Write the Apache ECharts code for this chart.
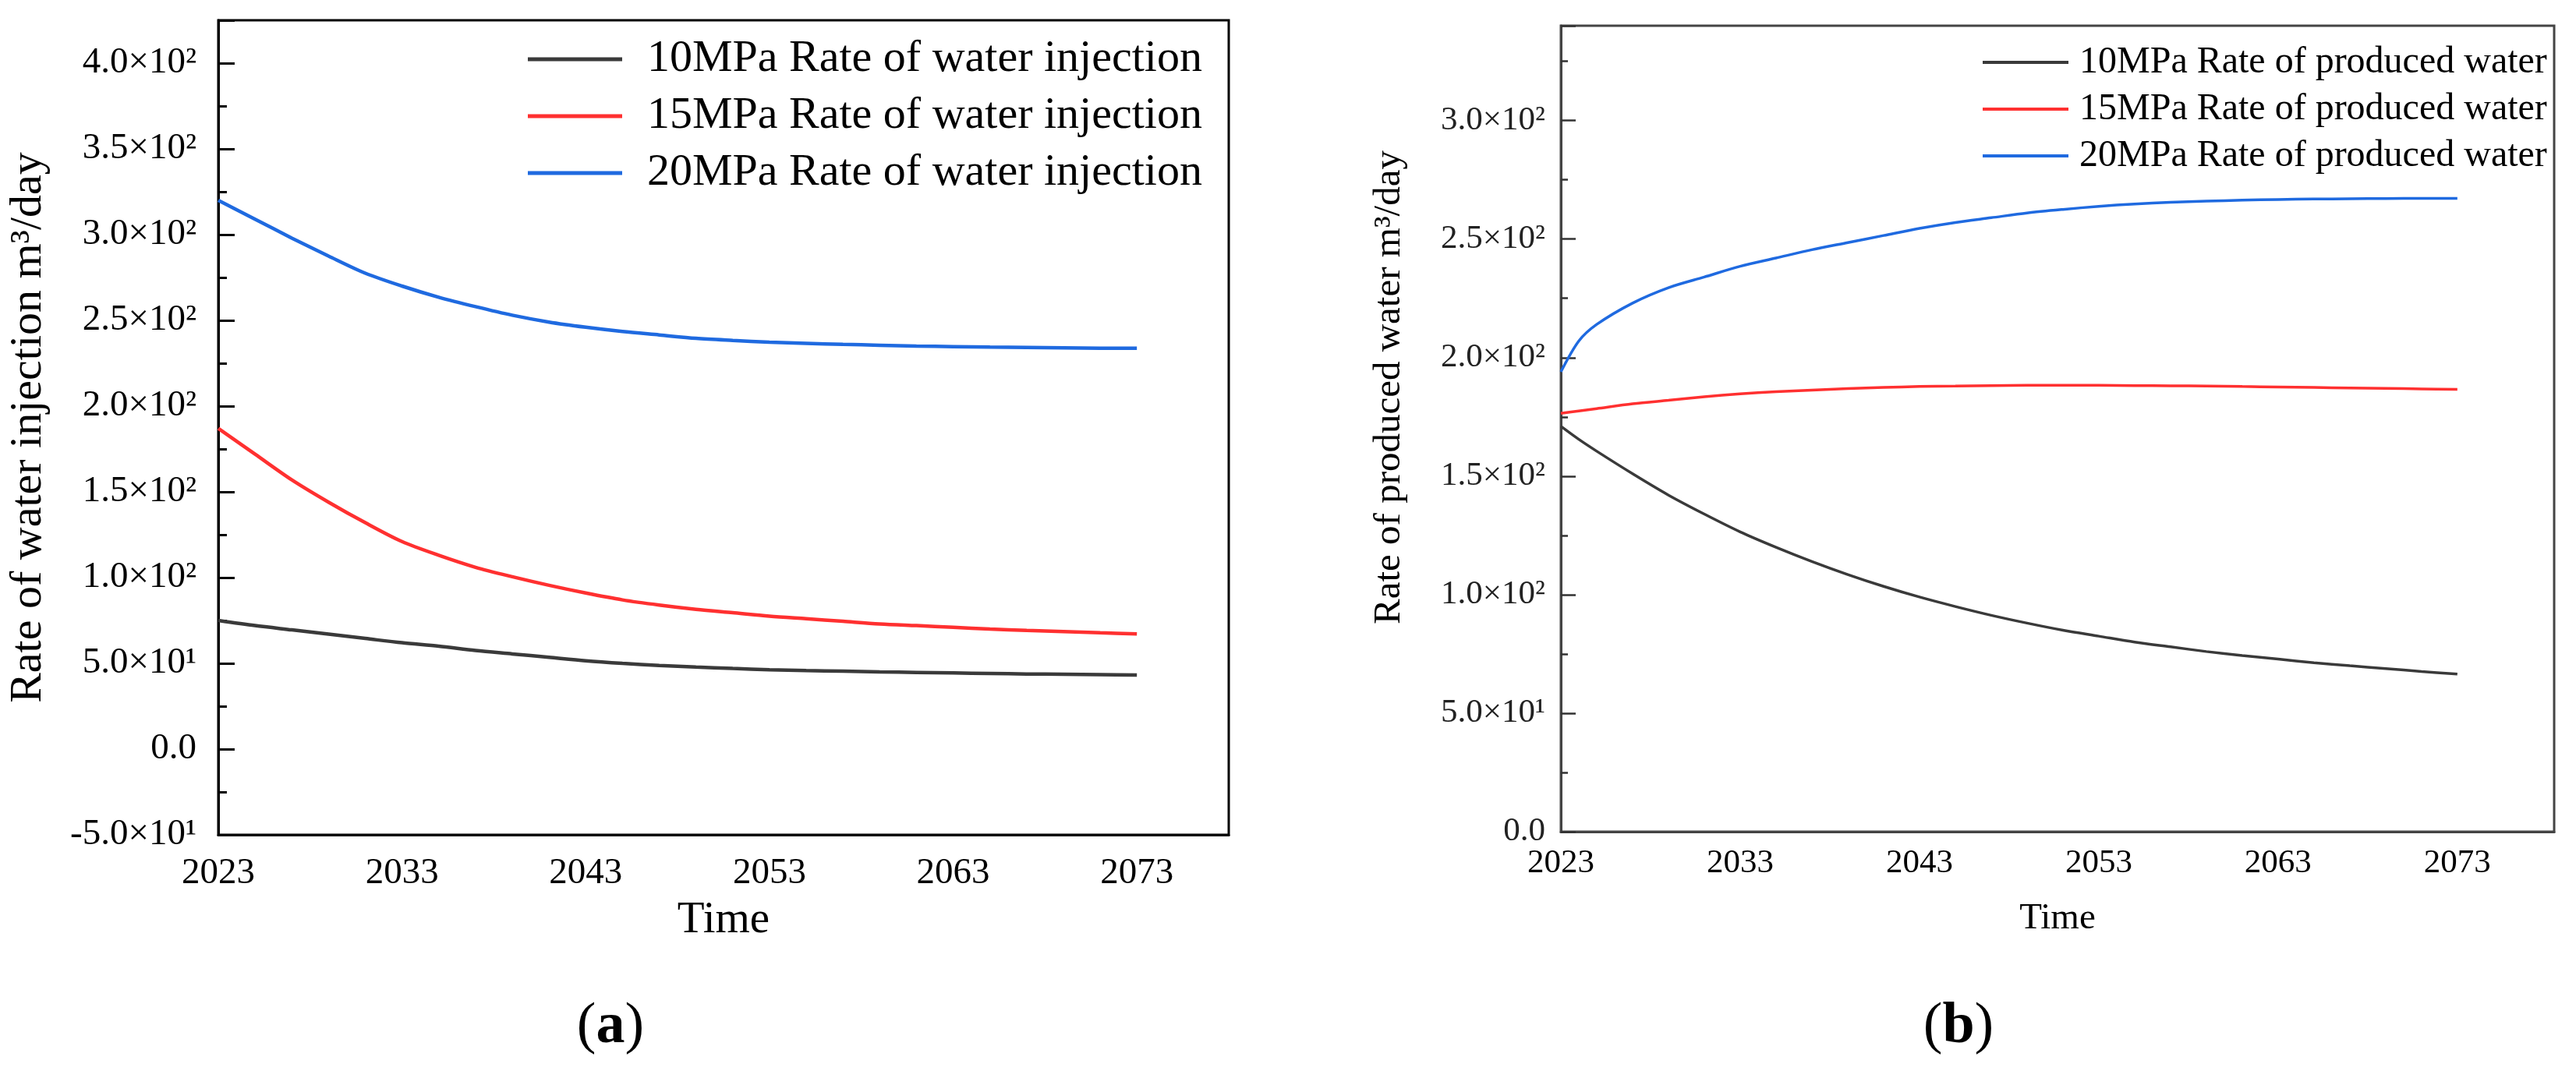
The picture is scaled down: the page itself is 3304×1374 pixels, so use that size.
<!DOCTYPE html>
<html>
<head>
<meta charset="utf-8">
<script src="https://cdn.jsdelivr.net/npm/echarts@6/dist/echarts.min.js"></script>
<style>
html,body{margin:0;padding:0;background:#fff;}
#c{width:3304px;height:1374px;}
</style>
</head>
<body>
<div id="c"></div>
<script>
// ---- data ----
const injYears = [2023,2025,2027,2029,2031,2033,2035,2037,2039,2041,2043,2045,2047,2049,2051,2053,2055,2057,2059,2061,2063,2065,2067,2069,2071,2073];
const inj10 = [75,72,69.5,67,64.5,62,60,57.5,55.5,53.5,51.5,50,48.8,47.8,47,46.3,45.8,45.4,45,44.7,44.4,44.1,43.8,43.6,43.4,43.2];
const inj15 = [187,172,157,144,132,121,113,106,100.5,95.5,91,87,84,81.5,79.5,77.5,76,74.5,73,72,71,70,69.2,68.5,67.8,67.2];
const inj20 = [320,309,298,287.5,277.5,270,263.5,258,253,249,246,243.5,241.5,239.5,238.3,237.3,236.6,236,235.5,235,234.7,234.4,234.2,234,233.8,233.7];

const prodYears = [2023,2024,2025,2027,2029,2031,2033,2035,2037,2039,2041,2043,2045,2047,2049,2051,2053,2055,2057,2059,2061,2063,2065,2067,2069,2071,2073];
const prod10 = [171,165.5,160.5,151,142,134,126.5,120,114,108.5,103.5,99,95,91.3,88,85,82.5,80,78,76,74.3,72.8,71.3,70,68.8,67.6,66.5];
const prod15 = [176.5,177.5,178.5,180.5,182,183.5,184.7,185.6,186.3,186.9,187.4,187.8,188,188.2,188.3,188.3,188.3,188.2,188.1,188,187.8,187.6,187.4,187.2,187,186.8,186.6];
const prod20 = [194,207,214,223,229.5,234,238.5,242,245.5,248.5,251.5,254.5,257,259,261,262.5,263.8,264.8,265.5,266,266.4,266.7,266.9,267,267.1,267.2,267.2];

const injNames = ['10MPa Rate of water injection','15MPa Rate of water injection','20MPa Rate of water injection'];
const prodNames = ['10MPa Rate of produced water','15MPa Rate of produced water','20MPa Rate of produced water'];
const colors = ['#3a3a3a','#ff3030','#1f6ae0'];
const baseYear = 2023;

// ---- helpers ----
function pairs(xs, ys){ return xs.map((x,i)=>[x-baseYear, ys[i]]); }
function sci(v){
  if (Math.abs(v) < 1e-9) return '0.0';
  const e = Math.floor(Math.log10(Math.abs(v)) + 1e-9);
  const m = v/Math.pow(10,e);
  return m.toFixed(1) + '×10' + (e===1 ? '¹' : '²');
}
const FONT = '"Liberation Serif","Times New Roman",serif';

const chart = echarts.init(document.getElementById('c'), null, {renderer:'canvas'});

function xAxisCfg(gi, max, labelSize, margin, nameSize, nameGap, color){
  return {
    type:'value', gridIndex:gi, min:0, max:max, interval:10,
    axisLine:{show:true, onZero:false, lineStyle:{color:color, width:3}},
    axisTick:{show:false}, splitLine:{show:false},
    axisLabel:{show:true, margin:margin, fontFamily:FONT, fontSize:labelSize, color:'#000',
      showMaxLabel:false, formatter:(v)=>String(Math.round(v+baseYear))},
    name:'Time', nameLocation:'middle', nameGap:nameGap,
    nameTextStyle:{fontFamily:FONT, fontSize:nameSize, color:'#000'}
  };
}

function lineSeries(name, xi, xs, ys, color, w){
  return {name:name, type:'line', xAxisIndex:xi, yAxisIndex:xi, data:pairs(xs, ys),
    symbol:'none', showSymbol:false, smooth:0.3,
    lineStyle:{color:color, width:w}, itemStyle:{color:color}};
}

const option = {
  backgroundColor:'#fff',
  animation:false,
  grid:[
    {left:280, top:26, width:1296, height:1045, show:true, borderColor:'#000', borderWidth:3, containLabel:false},
    {left:2002, top:33, width:1274, height:1034, show:true, borderColor:'#444', borderWidth:3, containLabel:false}
  ],
  legend:[
    {orient:'vertical', left:672, top:41, icon:'rect', itemWidth:121, itemHeight:5, itemGap:13,
     data:injNames, selectedMode:false,
     textStyle:{fontFamily:FONT, fontSize:58, color:'#000', lineHeight:60, padding:[0,0,0,27]}},
    {orient:'vertical', left:2538, top:50, icon:'rect', itemWidth:110, itemHeight:4, itemGap:10,
     data:prodNames, selectedMode:false,
     textStyle:{fontFamily:FONT, fontSize:48, color:'#000', lineHeight:50, padding:[0,0,0,9]}}
  ],
  xAxis:[
    xAxisCfg(0, 55, 47, 26, 57, 82, '#000'),
    xAxisCfg(1, 55.4, 43, 19, 47, 88, '#444')
  ],
  yAxis:[
    {type:'value', gridIndex:0, min:-50, max:425, interval:50,
     axisLine:{show:true, onZero:false, lineStyle:{color:'#000', width:3}},
     axisTick:{show:true, inside:true, length:21, lineStyle:{color:'#000', width:3}},
     minorTick:{show:true, splitNumber:2, length:11, lineStyle:{color:'#000', width:3}},
     splitLine:{show:false}, minorSplitLine:{show:false},
     axisLabel:{margin:28, fontFamily:FONT, fontSize:47, color:'#000', showMaxLabel:false, formatter:sci},
     name:'Rate of water injection m³/day', nameLocation:'middle', nameGap:214,
     nameTextStyle:{fontFamily:FONT, fontSize:58, color:'#000'}},
    {type:'value', gridIndex:1, min:0, max:340, interval:50,
     axisLine:{show:true, onZero:false, lineStyle:{color:'#444', width:3}},
     axisTick:{show:true, inside:true, length:19, lineStyle:{color:'#333', width:2.5}},
     minorTick:{show:true, splitNumber:2, length:9, lineStyle:{color:'#333', width:2.5}},
     splitLine:{show:false}, minorSplitLine:{show:false},
     axisLabel:{margin:20, fontFamily:FONT, fontSize:43, color:'#222', showMaxLabel:false, formatter:sci},
     name:'', nameLocation:'middle'}
  ],
  graphic:[
    {type:'text', x:1782, y:497, rotation:Math.PI/2,
     style:{text:'Rate of produced water m³/day', font:'49px '+FONT, fill:'#000', align:'center', verticalAlign:'middle'}},
    {type:'text', x:783, y:1318,
     style:{text:'{p|(}{b|a}{p|)}', align:'center', verticalAlign:'middle',
       rich:{p:{fontFamily:FONT, fontSize:74, fill:'#000', color:'#000'}, b:{fontFamily:FONT, fontSize:74, fontWeight:'bold', fill:'#000', color:'#000'}}}},
    {type:'text', x:2512, y:1318,
     style:{text:'{p|(}{b|b}{p|)}', align:'center', verticalAlign:'middle',
       rich:{p:{fontFamily:FONT, fontSize:74, fill:'#000', color:'#000'}, b:{fontFamily:FONT, fontSize:74, fontWeight:'bold', fill:'#000', color:'#000'}}}}
  ],
  series:[
    lineSeries(injNames[0], 0, injYears, inj10, colors[0], 4.5),
    lineSeries(injNames[1], 0, injYears, inj15, colors[1], 4.5),
    lineSeries(injNames[2], 0, injYears, inj20, colors[2], 4.5),
    lineSeries(prodNames[0], 1, prodYears, prod10, colors[0], 3.5),
    lineSeries(prodNames[1], 1, prodYears, prod15, colors[1], 3.5),
    lineSeries(prodNames[2], 1, prodYears, prod20, colors[2], 3.5)
  ]
};
chart.setOption(option);
</script>
</body>
</html>
